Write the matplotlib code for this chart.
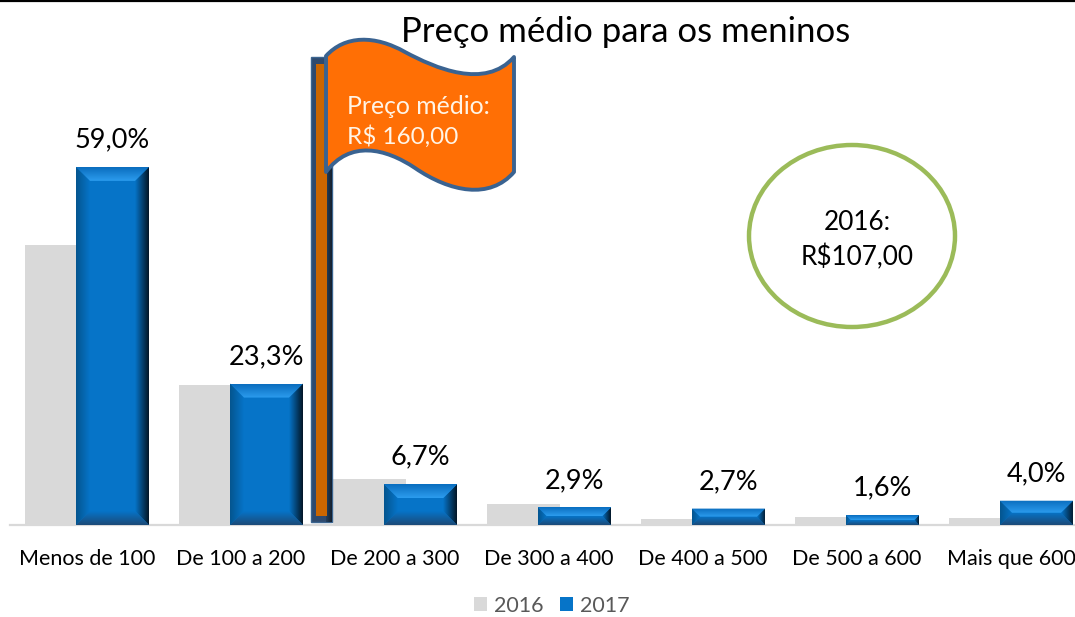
import numpy as np
import matplotlib
matplotlib.use('Agg')
import matplotlib.pyplot as plt
from matplotlib.patches import Ellipse, PathPatch, Polygon, Rectangle
from matplotlib.path import Path
from matplotlib.colors import LinearSegmentedColormap

plt.rcParams['font.family'] = ['Lato', 'DejaVu Sans']

categories = ['Menos de 100', 'De 100 a 200', 'De 200 a 300', 'De 300 a 400',
              'De 400 a 500', 'De 500 a 600', 'Mais que 600']
values_2016 = [46.1, 23.1, 7.6, 3.5, 1.0, 1.3, 1.2]
values_2017 = [59.0, 23.3, 6.7, 2.9, 2.7, 1.6, 4.0]

W, H = 1075, 617
BASE_Y = 525
PX_PER_PCT = 6.07


def grad_poly(ov, pts, c0, c1, horizontal, z):
    # gradient goes c0 -> c1 along x or y, clipped to the polygon
    pts = np.array(pts, dtype=float)
    x0, x1 = pts[:, 0].min(), pts[:, 0].max()
    y0, y1 = pts[:, 1].min(), pts[:, 1].max()
    cmap = LinearSegmentedColormap.from_list('g', [c0, c1])
    g = np.linspace(0, 1, 64)
    g = g[None, :] if horizontal else g[:, None]
    im = ov.imshow(g, cmap=cmap, extent=(x0, x1, y1, y0), aspect='auto',
                   origin='upper', zorder=z, vmin=0, vmax=1, interpolation='bilinear')
    clip = Polygon(pts, closed=True, transform=ov.transData, fc='none', ec='none')
    ov.add_patch(clip)
    im.set_clip_path(clip)


def bevel(ov, x0, y0, x1, y1, size=14, z=3):
    # x0,y0 top-left and x1,y1 bottom-right, in picture pixels
    b = min(size, (y1 - y0) / 2)
    ov.add_patch(Rectangle((x0, y0), x1 - x0, y1 - y0, fc='#0674C8', ec='none', zorder=z))
    tl, tr, br, bl = (x0, y0), (x1, y0), (x1, y1), (x0, y1)
    itl, itr, ibr, ibl = (x0 + b, y0 + b), (x1 - b, y0 + b), (x1 - b, y1 - b), (x0 + b, y1 - b)
    grad_poly(ov, [tl, itl, ibl, bl], '#04558F', '#0674C8', True, z + 0.1)
    grad_poly(ov, [tr, itr, ibr, br], '#0674C8', '#031626', True, z + 0.1)
    grad_poly(ov, [tl, tr, itr, itl], '#0A6DBE', '#2C9CEE', False, z + 0.2)
    grad_poly(ov, [bl, br, ibr, ibl], '#0674C8', '#1C4A78', False, z + 0.2)


fig = plt.figure(figsize=(W / 100, H / 100), dpi=100)
left, right, top = 10, 1075, 60
ax = fig.add_axes([left / W, 1 - BASE_Y / H, (right - left) / W, (BASE_Y - top) / H])
ax.patch.set_alpha(0)

x = np.arange(len(categories))
offset = 25.5 / 154
width = 73 / 154
bars16 = ax.bar(x - offset, values_2016, width, color='#D9D9D9', label='2016', zorder=2)
bars17 = ax.bar(x + offset, values_2017, width, color='#0674C8', label='2017', zorder=3)

ax.set_xlim((left - 87) / 154, (right - 87) / 154)
ax.set_ylim(0, (BASE_Y - top) / PX_PER_PCT)
ax.set_xticks(x)
ax.set_xticklabels(categories, fontsize=15.5, color='black')
ax.set_yticks([])
ax.tick_params(axis='x', length=0, pad=17)
for s in ['top', 'left', 'right']:
    ax.spines[s].set_visible(False)
ax.spines['bottom'].set_color('#D9D9D9')
ax.spines['bottom'].set_linewidth(1.6)

labels = [f'{v:.1f}%'.replace('.', ',') for v in values_2017]
ax.bar_label(bars17, labels=labels, padding=10.5, fontsize=19.5, color='black')

fig.text(625.5 / W, 1 - 32 / H, 'Preço médio para os meninos', fontsize=25,
         ha='center', va='center', color='black')

leg = fig.legend(handles=[bars16, bars17], loc='center', bbox_to_anchor=(551.5 / W, 1 - 606 / H),
                 ncol=2, frameon=False, fontsize=15.5, labelcolor='#595959', borderpad=0,
                 handlelength=0.62, handleheight=0.62, handletextpad=0.32, columnspacing=0.75)

# overlay in picture pixels, for the bevels and the drawn shapes
fig.canvas.draw()
ov = fig.add_axes([0, 0, 1, 1], zorder=5)
ov.axis('off')
ov.patch.set_alpha(0)

for b in bars17:
    e = b.get_window_extent()
    bevel(ov, e.x0, H - e.y1, e.x1, H - e.y0)

key = leg.legend_handles[1].get_window_extent()
bevel(ov, key.x0, H - key.y1, key.x1, H - key.y0, size=7)

# black line along the top edge
ov.plot([0, W], [0.8, 0.8], color='black', lw=1.6, zorder=1)

# flag pole
ov.add_patch(Rectangle((311, 57), 21, 465, fc='#2F4A6E', ec='#3B6590', lw=1, zorder=6))
grad_poly(ov, [(326, 57), (332, 57), (332, 522), (326, 522)], '#24405F', '#14202E', True, 6.1)
ov.add_patch(Rectangle((316, 64), 10.5, 452, fc='#CC6600', ec='none', zorder=6.2))

# flag cloth
verts = [(326, 56),
         (345, 35), (375, 35), (405, 52),
         (435, 68), (485, 90), (514, 57),
         (514, 172),
         (490, 200), (450, 192), (415, 168),
         (385, 148), (350, 140), (326, 172),
         (326, 56)]
codes = [Path.MOVETO, Path.CURVE4, Path.CURVE4, Path.CURVE4, Path.CURVE4, Path.CURVE4, Path.CURVE4,
         Path.LINETO, Path.CURVE4, Path.CURVE4, Path.CURVE4, Path.CURVE4, Path.CURVE4, Path.CURVE4,
         Path.CLOSEPOLY]
ov.add_patch(PathPatch(Path(verts, codes), fc='#FF6F05', ec='#3A6391', lw=2.8,
                       joinstyle='round', zorder=7))
ov.text(347, 106, 'Preço médio:', color='#FFF4E6', fontsize=17.8, va='center', ha='left', zorder=8)
ov.text(347, 137, 'R$ 160,00', color='#FFF4E6', fontsize=17.5, va='center', ha='left', zorder=8)

# circle with the 2016 price
ov.add_patch(Ellipse((852, 236), 206, 182, fc='none', ec='#9BBB59', lw=3.2, zorder=7))
ov.text(857, 222, '2016:', color='black', fontsize=18.8, ha='center', va='center', zorder=8)
ov.text(857, 257, 'R$107,00', color='black', fontsize=18.8, ha='center', va='center', zorder=8)

ov.set_xlim(0, W)
ov.set_ylim(H, 0)

fig.savefig('out.png', dpi=100)
